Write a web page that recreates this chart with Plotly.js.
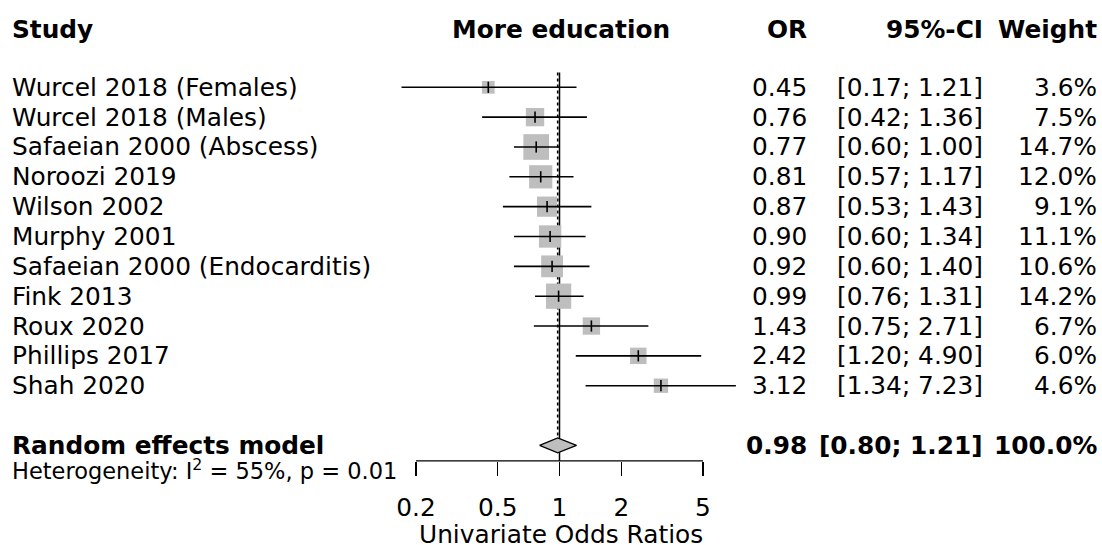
<!DOCTYPE html>
<html>
<head>
<meta charset="utf-8">
<script src="https://cdn.plot.ly/plotly-3.0.1.min.js"></script>
<style>html,body{margin:0;padding:0;background:#fff;}#chart{width:1102px;height:545px;}</style>
</head>
<body>
<div id="chart"></div>
<script>
// ---- data ----
var studies = ["Wurcel 2018 (Females)", "Wurcel 2018 (Males)", "Safaeian 2000 (Abscess)", "Noroozi 2019",
  "Wilson 2002", "Murphy 2001", "Safaeian 2000 (Endocarditis)", "Fink 2013", "Roux 2020", "Phillips 2017", "Shah 2020"];
var oddsRatio = [0.45, 0.76, 0.77, 0.81, 0.87, 0.90, 0.92, 0.99, 1.43, 2.42, 3.12];
var ciLower   = [0.17, 0.42, 0.60, 0.57, 0.53, 0.60, 0.60, 0.76, 0.75, 1.20, 1.34];
var ciUpper   = [1.21, 1.36, 1.00, 1.17, 1.43, 1.34, 1.40, 1.31, 2.71, 4.90, 7.23];
var weights   = [3.6, 7.5, 14.7, 12.0, 9.1, 11.1, 10.6, 14.2, 6.7, 6.0, 4.6];
var pooledLabel = "Random effects model";
var pooledOR = 0.98, pooledLower = 0.80, pooledUpper = 1.21, pooledWeight = 100.0;
var heterogeneity = "Heterogeneity: I<sup>2</sup> = 55%, p = 0.01";
var tickVals = [0.2, 0.5, 1, 2, 5];
var tickText = ["0.2", "0.5", "1", "2", "5"];
var headers = {study: "Study", effect: "More education", or: "OR", ci: "95%-CI", weight: "Weight"};
var xTitle = "Univariate Odds Ratios";

// ---- layout helpers ----
var W = 1102, H = 545;
var FONT = "DejaVu Sans";
var FS = 24.8;
var rows = studies.map(function (_, i) { return i + 1; });
var pooledRow = studies.length + 2;
var headerRow = -0.93;
var axisRow = pooledRow + 0.52;
function px(x) { return x / W; }
var rowTop = 87.3, rowStep = 29.84;
var yRange = [1 + (H - rowTop) / rowStep, 1 - rowTop / rowStep];
var axisPaperY = (yRange[0] - axisRow) / (yRange[0] - yRange[1]);
function f2(v) { return v.toFixed(2); }

var ciX = [], ciY = [];
rows.forEach(function (r, i) { ciX.push(ciLower[i], ciUpper[i], null); ciY.push(r, r, null); });

var sizes = weights.map(function (w) { return 6.7 * Math.sqrt(w); });

var traces = [
  { type: "scatter", mode: "markers", x: oddsRatio, y: rows, hoverinfo: "skip",
    marker: { symbol: "square", size: sizes, color: "#bebebe", opacity: 1, line: { width: 0 } } },
  { type: "scatter", mode: "lines", x: ciX, y: ciY, hoverinfo: "skip",
    line: { color: "black", width: 1.6 } },
  { type: "scatter", mode: "markers", x: oddsRatio, y: rows, hoverinfo: "skip",
    marker: { symbol: "line-ns-open", size: 8, color: "black", line: { color: "black", width: 1.6 } } },
  { type: "scatter", mode: "lines", hoverinfo: "skip", fill: "toself", fillcolor: "#bebebe",
    x: [pooledLower, pooledOR, pooledUpper, pooledOR, pooledLower],
    y: [pooledRow, pooledRow - 0.25, pooledRow, pooledRow + 0.25, pooledRow],
    line: { color: "black", width: 1.4 } }
];

var shapes = [
  { type: "line", layer: "below", xref: "x", yref: "y", x0: 1, x1: 1, y0: 0.5, y1: axisRow,
    line: { color: "black", width: 1.5 } },
  { type: "line", layer: "below", xref: "x", yref: "y", x0: pooledOR, x1: pooledOR, y0: 0.5, y1: pooledRow - 0.25,
    line: { color: "black", width: 1.6, dash: "dot" } },
  { type: "line", xref: "x", yref: "paper", x0: tickVals[0], x1: tickVals[tickVals.length - 1],
    y0: axisPaperY, y1: axisPaperY, line: { color: "black", width: 1.4 } }
];

var ann = [];
function addText(text, xPix, row, anchor, size) {
  ann.push({ text: text, xref: "paper", yref: "y", x: px(xPix), y: row, xanchor: anchor, yanchor: "middle",
    showarrow: false, font: { family: FONT, size: size || FS, color: "black" } });
}
var X_STUDY = 10, X_EFFECT = 561, X_OR = 809, X_CI = 985, X_W = 1099;
addText("<b>" + headers.study + "</b>", X_STUDY, headerRow, "left");
addText("<b>" + headers.effect + "</b>", X_EFFECT, headerRow, "center");
addText("<b>" + headers.or + "</b>", X_OR, headerRow, "right");
addText("<b>" + headers.ci + "</b>", X_CI, headerRow, "right");
addText("<b>" + headers.weight + "</b>", X_W, headerRow, "right");
rows.forEach(function (r, i) {
  addText(studies[i], X_STUDY, r, "left");
  addText(f2(oddsRatio[i]), X_OR, r, "right");
  addText("[" + f2(ciLower[i]) + "; " + f2(ciUpper[i]) + "]", X_CI, r, "right");
  addText(weights[i].toFixed(1) + "%", X_W, r, "right");
});
addText("<b>" + pooledLabel + "</b>", X_STUDY, pooledRow, "left");
addText("<b>" + f2(pooledOR) + "</b>", X_OR, pooledRow, "right");
addText("<b>[" + f2(pooledLower) + "; " + f2(pooledUpper) + "]</b>", X_CI, pooledRow, "right");
addText("<b>" + pooledWeight.toFixed(1) + "%</b>", X_W, pooledRow, "right");
addText(heterogeneity, X_STUDY, pooledRow + 0.8, "left", 22.5);
addText(xTitle, X_EFFECT, pooledRow + 2.98, "center");

// x axis log range so that 0.2 -> 416px and 5 -> 703px
var pxPerDecade = (703 - 416) / Math.log10(5 / 0.2);
var xRange = [Math.log10(0.2) - 416 / pxPerDecade, Math.log10(5) + (W - 703) / pxPerDecade];

var layout = {
  width: W, height: H, margin: { l: 0, r: 0, t: 0, b: 0, pad: 0 },
  paper_bgcolor: "white", plot_bgcolor: "white", showlegend: false,
  font: { family: FONT, size: FS, color: "black" },
  xaxis: { type: "log", range: xRange, showgrid: false, zeroline: false, showline: false,
    anchor: "free", position: axisPaperY, side: "bottom",
    ticks: "outside", ticklen: 14, tickwidth: 1.4, tickcolor: "black",
    ticklabelstandoff: 10,
    tickmode: "array", tickvals: tickVals, ticktext: tickText,
    tickfont: { family: FONT, size: FS, color: "black" }, fixedrange: true },
  yaxis: { range: yRange, visible: false, showgrid: false, zeroline: false, fixedrange: true },
  shapes: shapes, annotations: ann
};

Plotly.newPlot("chart", traces, layout, { staticPlot: true, displayModeBar: false });
</script>
</body>
</html>
